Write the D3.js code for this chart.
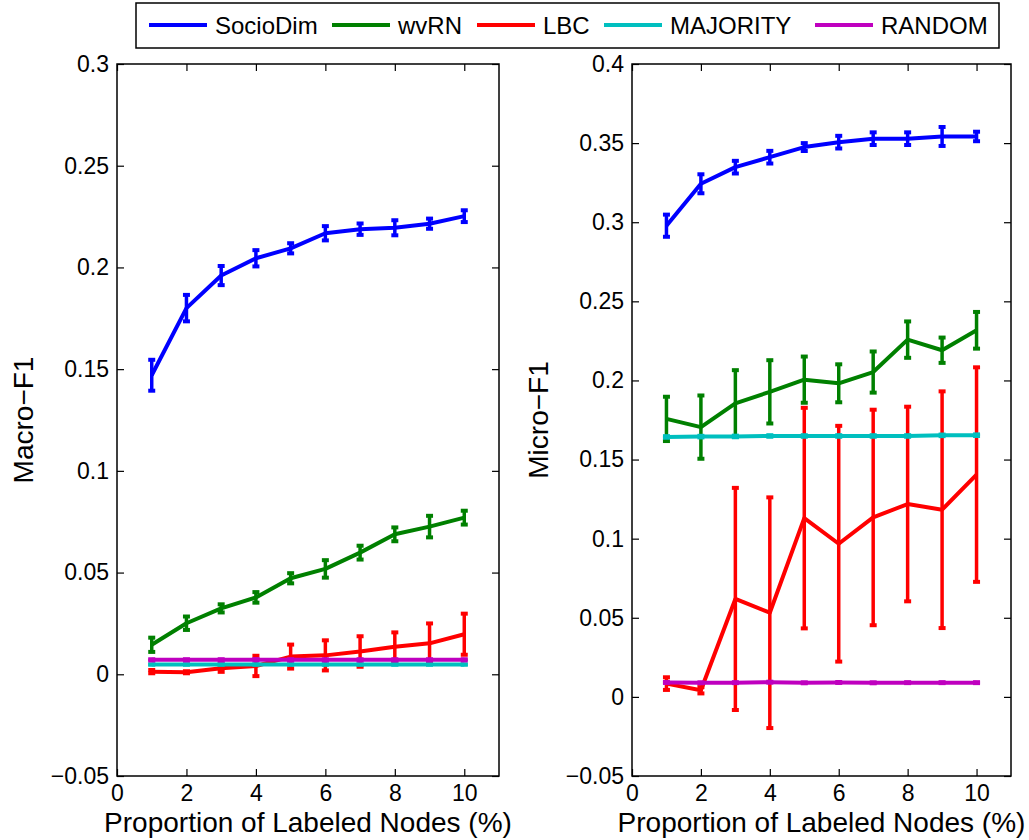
<!DOCTYPE html>
<html>
<head>
<meta charset="utf-8">
<script src="https://cdn.jsdelivr.net/npm/d3@7"></script>
<style>
  html, body { margin: 0; padding: 0; background: #fff; }
  svg { display: block; font-family: "Liberation Sans", Arial, Helvetica, sans-serif; }
</style>
</head>
<body>
<svg id="chart" width="1029" height="840"></svg>
<script>
// ---------- data ----------
const proportions = [1, 2, 3, 4, 5, 6, 7, 8, 9, 10];
const seriesNames = ["SocioDim", "wvRN", "LBC", "MAJORITY", "RANDOM"];
const seriesColors = ["#0000ff", "#008000", "#ff0000", "#00bfbf", "#bf00bf"];

// Macro-F1 (left)
const socioMacro    = [0.147, 0.180, 0.196, 0.2045, 0.2094, 0.2168, 0.2188, 0.2195, 0.2215, 0.2252];
const socioMacroErr = [0.0076, 0.0065, 0.0047, 0.004, 0.0025, 0.0035, 0.0028, 0.0037, 0.0025, 0.0029];
const wvrnMacro     = [0.0145, 0.0251, 0.0324, 0.0378, 0.0472, 0.0518, 0.0598, 0.0688, 0.0726, 0.077];
const wvrnMacroErr  = [0.0035, 0.0033, 0.002, 0.0026, 0.0025, 0.0043, 0.0034, 0.0034, 0.0053, 0.0034];
const lbcMacro      = [0.0013, 0.001, 0.003, 0.0041, 0.0087, 0.0093, 0.0112, 0.0135, 0.0152, 0.0197];
const lbcMacroErr   = [0.0008, 0.0005, 0.0018, 0.005, 0.0059, 0.0074, 0.0075, 0.0071, 0.0098, 0.0101];
const majMacro      = [0.0048, 0.0048, 0.0048, 0.0048, 0.0048, 0.0048, 0.0048, 0.0048, 0.0048, 0.0048];
const majMacroErr   = [0, 0, 0, 0, 0, 0, 0, 0, 0, 0];
const rndMacro      = [0.0071, 0.0071, 0.0071, 0.0072, 0.0071, 0.0071, 0.0071, 0.0071, 0.0071, 0.0071];
const rndMacroErr   = [0.0003, 0.0003, 0.0003, 0.0003, 0.0003, 0.0003, 0.0003, 0.0003, 0.0003, 0.0003];

// Micro-F1 (right)
const socioMicro    = [0.2978, 0.3243, 0.3348, 0.3411, 0.3475, 0.3506, 0.3528, 0.3528, 0.3542, 0.3542];
const socioMicroErr = [0.007, 0.006, 0.004, 0.004, 0.0025, 0.004, 0.004, 0.004, 0.006, 0.003];
const wvrnMicro     = [0.1757, 0.1705, 0.1855, 0.1928, 0.2005, 0.1982, 0.2053, 0.2258, 0.2191, 0.2317];
const wvrnMicroErr  = [0.014, 0.02, 0.021, 0.02, 0.0146, 0.012, 0.013, 0.0115, 0.008, 0.0116];
const lbcMicro      = [0.0084, 0.0042, 0.0619, 0.0532, 0.113, 0.0968, 0.1134, 0.1219, 0.1183, 0.1405];
const lbcMicroErr   = [0.004, 0.002, 0.0702, 0.0729, 0.0697, 0.0745, 0.0681, 0.0615, 0.0748, 0.0678];
const majMicro      = [0.1643, 0.1645, 0.1646, 0.1649, 0.1649, 0.1649, 0.1649, 0.1649, 0.1653, 0.1654];
const majMicroErr   = [0.0005, 0.0005, 0.0005, 0.0005, 0.0005, 0.0005, 0.0005, 0.0005, 0.0005, 0.0005];
const rndMicro      = [0.0091, 0.0089, 0.009, 0.0093, 0.0089, 0.0091, 0.0089, 0.009, 0.009, 0.009];
const rndMicroErr   = [0.0003, 0.0003, 0.0003, 0.0003, 0.0003, 0.0003, 0.0003, 0.0003, 0.0003, 0.0003];

const xTicks = [0, 2, 4, 6, 8, 10];
const yTicksMacro = [-0.05, 0, 0.05, 0.1, 0.15, 0.2, 0.25, 0.3];
const yTicksMicro = [-0.05, 0, 0.05, 0.1, 0.15, 0.2, 0.25, 0.3, 0.35, 0.4];
const xLabel = "Proportion of Labeled Nodes (%)";

// ---------- drawing ----------
const svg = d3.select("#chart");
const fmt = d => (d === 0 ? "0" : String(+d.toFixed(2)).replace("-", "\u2212"));

function panel(opts) {
  const x = d3.scaleLinear().domain([0, 11]).range([opts.left, opts.right]);
  const y = d3.scaleLinear().domain(opts.yDomain).range([opts.bottom, opts.top]);
  const g = svg.append("g");

  // axes with inside ticks
  const tl = 7;
  g.append("g").attr("transform", `translate(0,${opts.bottom})`)
    .call(d3.axisBottom(x).tickValues(xTicks).tickFormat(d3.format("d")).tickSizeInner(-tl).tickSizeOuter(0).tickPadding(9))
    .call(a => a.select(".domain").remove())
    .call(a => a.selectAll("text").attr("font-size", 23).attr("font-family", null).attr("fill", "#000"));
  g.append("g").attr("transform", `translate(0,${opts.top})`)
    .call(d3.axisTop(x).tickValues(xTicks).tickFormat("").tickSizeInner(-tl).tickSizeOuter(0))
    .call(a => a.select(".domain").remove());
  g.append("g").attr("transform", `translate(${opts.left},0)`)
    .call(d3.axisLeft(y).tickValues(opts.yTicks).tickFormat(fmt).tickSizeInner(-tl).tickSizeOuter(0).tickPadding(8))
    .call(a => a.select(".domain").remove())
    .call(a => a.selectAll("text").attr("font-size", 23).attr("font-family", null).attr("fill", "#000"));
  g.append("g").attr("transform", `translate(${opts.right},0)`)
    .call(d3.axisRight(y).tickValues(opts.yTicks).tickFormat("").tickSizeInner(-tl).tickSizeOuter(0))
    .call(a => a.select(".domain").remove());
  g.selectAll(".tick line").attr("stroke", "#000").attr("stroke-width", 1.2);

  g.append("rect")
    .attr("x", opts.left).attr("y", opts.top)
    .attr("width", opts.right - opts.left).attr("height", opts.bottom - opts.top)
    .attr("fill", "none").attr("stroke", "#000").attr("stroke-width", 1.5);

  const clipId = "clip" + opts.id;
  svg.append("clipPath").attr("id", clipId).append("rect")
    .attr("x", opts.left).attr("y", opts.top)
    .attr("width", opts.right - opts.left).attr("height", opts.bottom - opts.top);
  const plot = g.append("g").attr("clip-path", `url(#${clipId})`);

  const line = d3.line().x((d, i) => x(proportions[i])).y(d => y(d));
  opts.series.forEach((s, k) => {
    const col = seriesColors[k];
    const sg = plot.append("g");
    sg.append("path").datum(s.values)
      .attr("d", line).attr("fill", "none").attr("stroke", col)
      .attr("stroke-width", 4).attr("stroke-linejoin", "round");
    const bars = sg.selectAll("g.eb").data(s.values).join("g").attr("class", "eb");
    const cap = 3.5;
    bars.append("line")
      .attr("x1", (d, i) => x(proportions[i])).attr("x2", (d, i) => x(proportions[i]))
      .attr("y1", (d, i) => y(d - s.err[i])).attr("y2", (d, i) => y(d + s.err[i]))
      .attr("stroke", col).attr("stroke-width", 3.5);
    [-1, 1].forEach(sign => {
      bars.append("line")
        .attr("x1", (d, i) => x(proportions[i]) - cap).attr("x2", (d, i) => x(proportions[i]) + cap)
        .attr("y1", (d, i) => y(d + sign * s.err[i])).attr("y2", (d, i) => y(d + sign * s.err[i]))
        .attr("stroke", col).attr("stroke-width", 4);
    });
  });

  // axis labels
  svg.append("text")
    .attr("x", (opts.left + opts.right) / 2).attr("y", 832)
    .attr("text-anchor", "middle").attr("font-size", 28).text(xLabel);
  svg.append("text")
    .attr("transform", `translate(${opts.left - 84},${(opts.top + opts.bottom) / 2}) rotate(-90)`)
    .attr("text-anchor", "middle").attr("font-size", 28).text(opts.yLabel);
}

panel({
  id: "L", left: 117, right: 499, top: 64, bottom: 776,
  yDomain: [-0.05, 0.3], yTicks: yTicksMacro, yLabel: "Macro\u2212F1",
  series: [
    { values: socioMacro, err: socioMacroErr },
    { values: wvrnMacro, err: wvrnMacroErr },
    { values: lbcMacro, err: lbcMacroErr },
    { values: majMacro, err: majMacroErr },
    { values: rndMacro, err: rndMacroErr }
  ]
});

panel({
  id: "R", left: 632, right: 1011, top: 64, bottom: 776,
  yDomain: [-0.05, 0.4], yTicks: yTicksMicro, yLabel: "Micro\u2212F1",
  series: [
    { values: socioMicro, err: socioMicroErr },
    { values: wvrnMicro, err: wvrnMicroErr },
    { values: lbcMicro, err: lbcMicroErr },
    { values: majMicro, err: majMicroErr },
    { values: rndMicro, err: rndMicroErr }
  ]
});

// legend
const lg = svg.append("g");
lg.append("rect").attr("x", 136).attr("y", 3).attr("width", 863).attr("height", 45)
  .attr("fill", "#fff").attr("stroke", "#000").attr("stroke-width", 1.5);
const legendX = [149, 332, 477, 604, 815];
seriesNames.forEach((name, k) => {
  const x0 = legendX[k];
  lg.append("line").attr("x1", x0).attr("x2", x0 + 58).attr("y1", 25).attr("y2", 25)
    .attr("stroke", seriesColors[k]).attr("stroke-width", 4);
  lg.append("text").attr("x", x0 + 66).attr("y", 34).attr("font-size", 24).text(name);
});
</script>
</body>
</html>
